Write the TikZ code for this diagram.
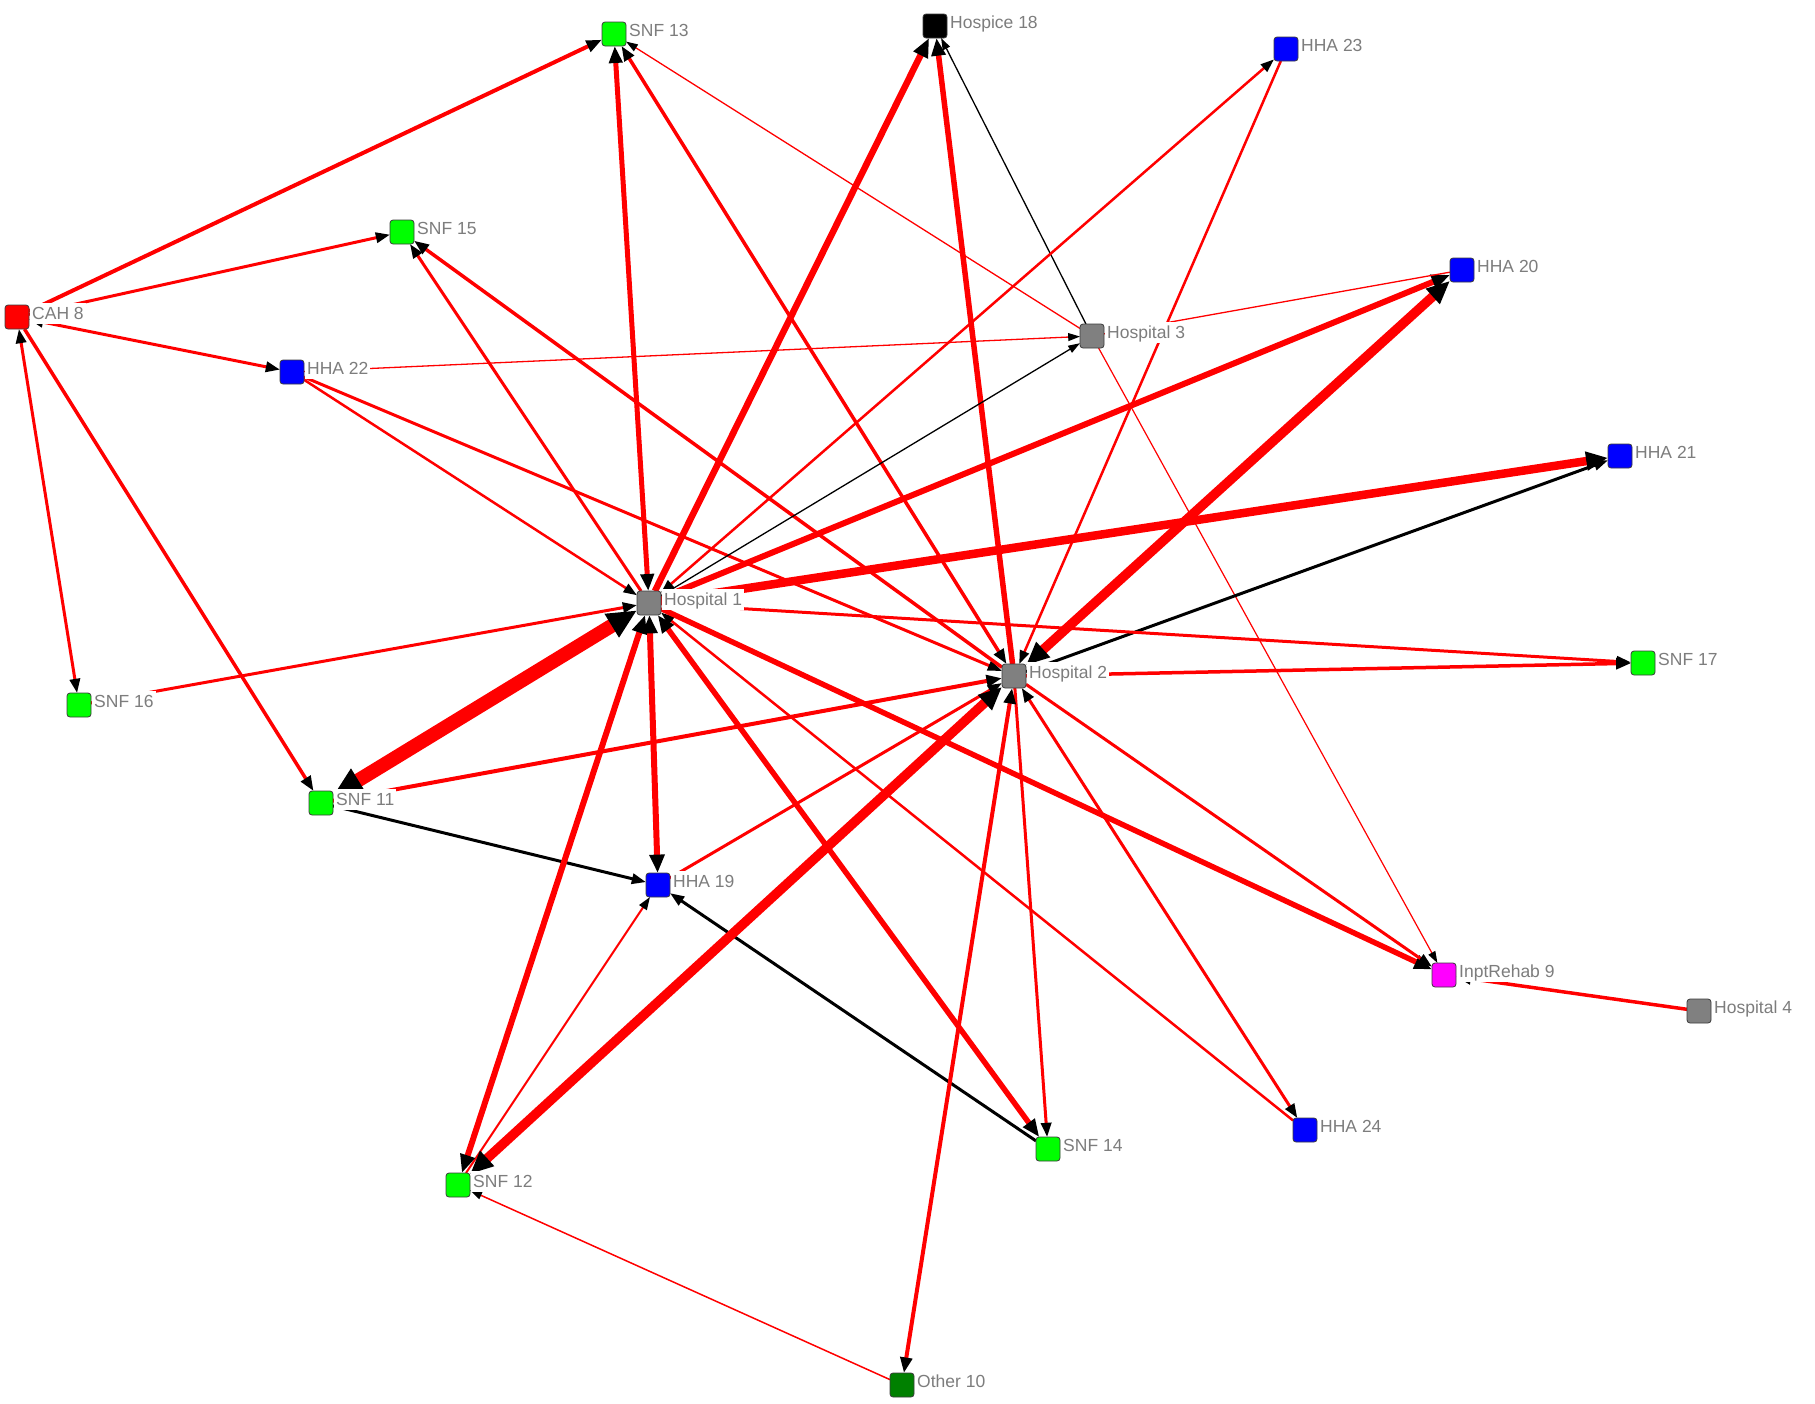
\documentclass[tikz,border=0pt]{standalone}
\usepackage{fontspec}
\setmainfont{Liberation Sans}
\usetikzlibrary{arrows.meta}
\pgfdeclarelayer{edges}
\pgfsetlayers{edges,main}
\definecolor{lblgray}{RGB}{125,125,125}
\definecolor{hosp}{RGB}{128,128,128}
\definecolor{snf}{RGB}{0,255,0}
\definecolor{hha}{RGB}{0,0,255}
\definecolor{cah}{RGB}{255,0,0}
\definecolor{hospice}{RGB}{0,0,0}
\definecolor{rehab}{RGB}{255,0,255}
\definecolor{other}{RGB}{0,128,0}
\definecolor{bord}{RGB}{60,60,60}
\definecolor{ered}{RGB}{255,0,0}
\newcommand\mkn[5]{%
  \node[nd, fill=#4] (#1) at (#2,#3) {};
  \node[lbl] (#1l) at ([xshift=1pt,yshift=-2.4pt]#1.east) {#5};}
\begin{document}
\begin{tikzpicture}[x=1pt,y=-1pt,
  >={Triangle[length=10pt 1.4,width=6pt 1.4,color=black,fill=black]},
  nd/.style={draw=bord, line width=0.8pt, rounded corners=3pt, minimum size=24pt, inner sep=0pt, outer sep=0pt},
  lbl/.style={fill=white, text=lblgray, font={\fontsize{17.5}{20}\selectfont}, inner xsep=2pt, inner ysep=0pt, text height=16pt, text depth=5pt, anchor=base west},
  re/.style={draw=ered, line width=#1},
  bk/.style={draw=black, line width=#1}]
\useasboundingbox (0,0) rectangle (1815,1403);
\mkn{snf13}{614}{34}{snf}{SNF 13}
\mkn{h18}{935}{26}{hospice}{Hospice 18}
\mkn{hha23}{1286}{49}{hha}{HHA 23}
\mkn{snf15}{402}{232}{snf}{SNF 15}
\mkn{cah8}{17}{317}{cah}{CAH 8}
\mkn{hha20}{1462}{270}{hha}{HHA 20}
\mkn{h3}{1092}{336}{hosp}{Hospital 3}
\mkn{hha22}{292}{372}{hha}{HHA 22}
\mkn{hha21}{1620}{456}{hha}{HHA 21}
\mkn{h1}{649}{603}{hosp}{Hospital 1}
\mkn{h2}{1014}{676}{hosp}{Hospital 2}
\mkn{snf17}{1643}{663}{snf}{SNF 17}
\mkn{snf16}{79}{705}{snf}{SNF 16}
\mkn{snf11}{321}{803}{snf}{SNF 11}
\mkn{hha19}{658}{885}{hha}{HHA 19}
\mkn{ir9}{1444}{975}{rehab}{InptRehab 9}
\mkn{h4}{1699}{1011}{hosp}{Hospital 4}
\mkn{hha24}{1305}{1130}{hha}{HHA 24}
\mkn{snf14}{1048}{1149}{snf}{SNF 14}
\mkn{snf12}{458}{1185}{snf}{SNF 12}
\mkn{o10}{902}{1385}{other}{Other 10}
\begin{pgfonlayer}{edges}
% CAH 8
\draw[re=4pt,->] (cah8) -- (snf13);
\draw[re=3pt,->] (cah8) -- (snf15);
\draw[re=3pt,<->] (cah8) -- (hha22);
\draw[re=3pt,<->] (cah8) -- (snf16);
\draw[re=3.5pt,->] (cah8) -- (snf11);
% HHA 22
\draw[re=1.3pt,->] (hha22) -- (h3);
\draw[re=2.5pt,->] (hha22) -- (h1);
\draw[re=3pt,->] (hha22) -- (h2);
% SNF 15
\draw[re=3pt,->] (h1) -- (snf15);
\draw[re=3.5pt,->] (h2) -- (snf15);
% SNF 13
\draw[re=5pt,<->] (h1) -- (snf13);
\draw[re=3.5pt,<->] (h2) -- (snf13);
\draw[re=1.3pt,->] (h3) -- (snf13);
% Hospice 18
\draw[re=6.5pt,->] (h1) -- (h18);
\draw[re=5.5pt,->] (h2) -- (h18);
\draw[bk=1.3pt,->] (h3) -- (h18);
% HHA 23
\draw[re=2.5pt,<->] (h1) -- (hha23);
\draw[re=2.5pt,->] (hha23) -- (h2);
% HHA 20
\draw[re=6pt,->] (h1) -- (hha20);
\draw[re=9.5pt,<->] (h2) -- (hha20);
\draw[re=1.3pt] (h3) -- (hha20);
% Hospital 3
\draw[bk=1.3pt,->] (h1) -- (h3);
\draw[re=1.2pt,->] (h3) -- (ir9);
% HHA 21
\draw[re=8.5pt,->] (h1) -- (hha21);
\draw[bk=3pt,->] (h2) -- (hha21);
% SNF 17
\draw[re=3pt,->] (h1) -- (snf17);
\draw[re=3.5pt,->] (h2) -- (snf17);
% SNF 16, SNF 11
\draw[re=3pt,->] (snf16) -- (h1);
\draw[re=14pt,<->] (h1) -- (snf11);
\draw[re=4pt,->] (snf11) -- (h2);
\draw[bk=3pt,->] (snf11) -- (hha19);
% HHA 19
\draw[re=6pt,<->] (h1) -- (hha19);
\draw[re=3pt,->] (hha19) -- (h2);
\draw[re=2pt,->] (snf12) -- (hha19);
\draw[bk=3pt,->] (snf14) -- (hha19);
% SNF 12
\draw[re=6pt,<->] (h1) -- (snf12);
\draw[re=9.5pt,<->] (h2) -- (snf12);
\draw[re=1.5pt,->] (o10) -- (snf12);
% SNF 14
\draw[re=5.5pt,<->] (h1) -- (snf14);
\draw[re=3pt,->] (h2) -- (snf14);
% HHA 24
\draw[re=2.5pt,->] (hha24) -- (h1);
\draw[re=3pt,<->] (h2) -- (hha24);
% InptRehab 9
\draw[re=5.5pt,->] (h1) -- (ir9);
\draw[re=3pt,->] (h2) -- (ir9);
\draw[re=3.5pt,->] (h4) -- (ir9);
% Other 10
\draw[re=4pt,<->] (h2) -- (o10);
\end{pgfonlayer}
\end{tikzpicture}
\end{document}
